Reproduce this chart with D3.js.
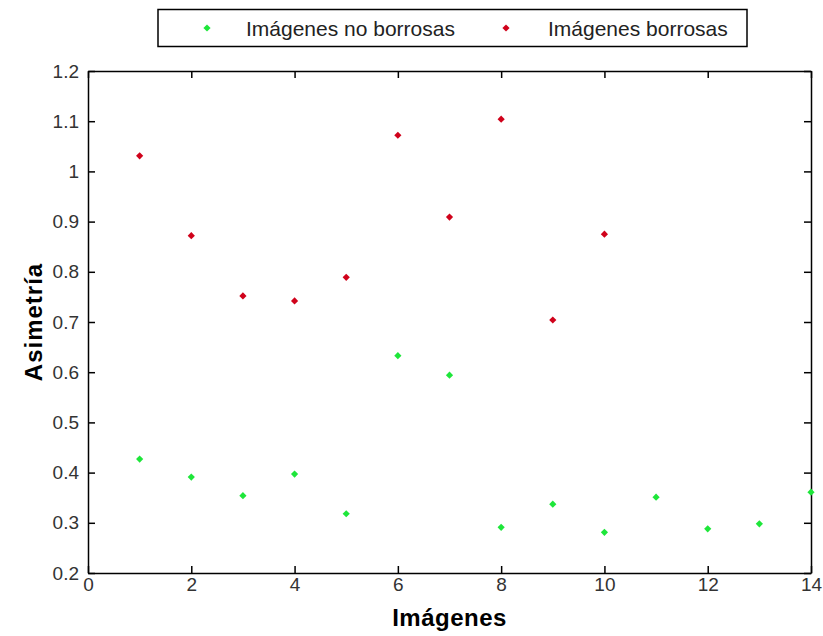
<!DOCTYPE html>
<html>
<head>
<meta charset="utf-8">
<script src="https://cdn.jsdelivr.net/npm/d3@7"></script>
<style>
  body { margin: 0; background: #fff; }
  text { font-family: "Liberation Sans", Arial, sans-serif; }
</style>
</head>
<body>
<div id="chart"></div>
<script>
const width = 823;
const height = 636;

// image index for each series
const imagesBlurred = [1, 2, 3, 4, 5, 6, 7, 8, 9, 10];
const imagesSharp = [1, 2, 3, 4, 5, 6, 7, 8, 9, 10, 11, 12, 13, 14];

// skewness values
const skewBlurred = [1.031, 0.872, 0.752, 0.742, 0.789, 1.072, 0.909, 1.104, 0.704, 0.875];
const skewSharp = [0.427, 0.391, 0.354, 0.397, 0.318, 0.633, 0.594, 0.291, 0.337, 0.281, 0.351, 0.288, 0.298, 0.361];

const xTicks = [0, 2, 4, 6, 8, 10, 12, 14];
const yTicks = [0.2, 0.3, 0.4, 0.5, 0.6, 0.7, 0.8, 0.9, 1, 1.1, 1.2];

const seriesNames = ["Imágenes no borrosas", "Imágenes borrosas"];
const seriesColors = ["#1ee63a", "#d0021b"];

const margin = { top: 71, right: 12, bottom: 63, left: 88 };
const innerW = width - margin.left - margin.right;
const innerH = height - margin.top - margin.bottom;

const svg = d3.select("#chart").append("svg")
  .attr("width", width)
  .attr("height", height);

const x = d3.scaleLinear().domain([0, 14]).range([margin.left, margin.left + innerW]);
const y = d3.scaleLinear().domain([0.2, 1.2]).range([margin.top + innerH, margin.top]);

const tickLen = 7;
const tickFmt = d => String(d);

// bottom axis
const gx = svg.append("g")
  .attr("transform", `translate(0,${margin.top + innerH})`)
  .call(d3.axisBottom(x).tickValues(xTicks).tickFormat(tickFmt).tickSizeInner(-tickLen).tickSizeOuter(0).tickPadding(5));
// top axis (ticks only)
const gxt = svg.append("g")
  .attr("transform", `translate(0,${margin.top})`)
  .call(d3.axisTop(x).tickValues(xTicks).tickFormat("").tickSizeInner(-tickLen).tickSizeOuter(0));
// left axis
const gy = svg.append("g")
  .attr("transform", `translate(${margin.left},0)`)
  .call(d3.axisLeft(y).tickValues(yTicks).tickFormat(tickFmt).tickSizeInner(-tickLen).tickSizeOuter(0).tickPadding(9));
// right axis (ticks only)
const gyr = svg.append("g")
  .attr("transform", `translate(${margin.left + innerW},0)`)
  .call(d3.axisRight(y).tickValues(yTicks).tickFormat("").tickSizeInner(-tickLen).tickSizeOuter(0));

[gx, gxt, gy, gyr].forEach(g => {
  g.selectAll("path.domain").attr("stroke", "#000").attr("stroke-width", 1.5);
  g.selectAll(".tick line").attr("stroke", "#000").attr("stroke-width", 1.5);
  g.selectAll(".tick text")
    .attr("fill", "#333")
    .style("font-family", "'Liberation Sans', Arial, sans-serif")
    .style("font-size", "19px");
});

// points: small diamonds (rotated squares)
const symbol = d3.symbol().type(d3.symbolSquare).size(26);

svg.append("g").selectAll("path")
  .data(imagesSharp.map((d, i) => [d, skewSharp[i]]))
  .join("path")
  .attr("d", symbol)
  .attr("transform", d => `translate(${x(d[0])},${y(d[1])}) rotate(45)`)
  .attr("fill", seriesColors[0]);

svg.append("g").selectAll("path")
  .data(imagesBlurred.map((d, i) => [d, skewBlurred[i]]))
  .join("path")
  .attr("d", symbol)
  .attr("transform", d => `translate(${x(d[0])},${y(d[1])}) rotate(45)`)
  .attr("fill", seriesColors[1]);

// axis labels
svg.append("text")
  .attr("x", margin.left + innerW / 2)
  .attr("y", 626)
  .attr("text-anchor", "middle")
  .style("font-size", "24px")
  .style("font-weight", "bold")
  .style("letter-spacing", "0.5px")
  .text("Imágenes");

svg.append("text")
  .attr("transform", `translate(42,${margin.top + innerH / 2}) rotate(-90)`)
  .attr("text-anchor", "middle")
  .style("font-size", "24px")
  .style("font-weight", "bold")
  .style("letter-spacing", "1px")
  .text("Asimetría");

// legend
const legend = svg.append("g");
legend.append("rect")
  .attr("x", 158).attr("y", 9.5)
  .attr("width", 589).attr("height", 37)
  .attr("fill", "#fff").attr("stroke", "#000").attr("stroke-width", 1.5);

const legendItems = [
  { marker: 207, text: 246 },
  { marker: 506, text: 548 }
];
legendItems.forEach((it, i) => {
  legend.append("path")
    .attr("d", symbol)
    .attr("transform", `translate(${it.marker},28) rotate(45)`)
    .attr("fill", seriesColors[i]);
  legend.append("text")
    .attr("x", it.text)
    .attr("y", 35.5)
    .style("font-size", "21px")
    .attr("fill", "#222")
    .text(seriesNames[i]);
});
</script>
</body>
</html>
